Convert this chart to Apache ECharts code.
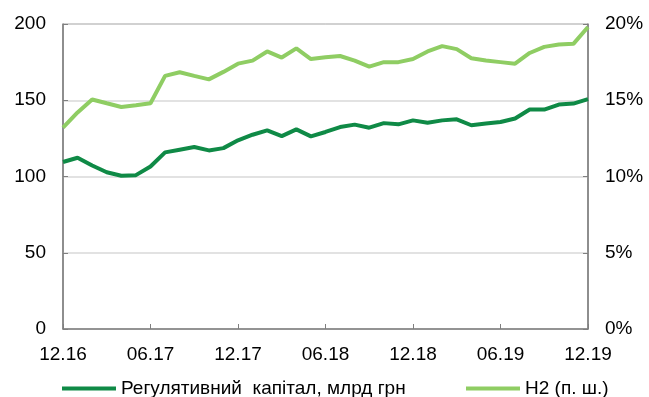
<!DOCTYPE html>
<html>
<head>
<meta charset="utf-8">
<script src="https://cdn.jsdelivr.net/npm/echarts@6/dist/echarts.min.js"></script>
<style>
  html, body { margin: 0; padding: 0; background: #fff; }
  #chart { width: 649px; height: 397px; }
</style>
</head>
<body>
<div id="chart"></div>
<script>
// Monthly points, 12.2016 – 12.2019
const months = [
  '12.16','01.17','02.17','03.17','04.17','05.17','06.17','07.17','08.17','09.17','10.17','11.17',
  '12.17','01.18','02.18','03.18','04.18','05.18','06.18','07.18','08.18','09.18','10.18','11.18',
  '12.18','01.19','02.19','03.19','04.19','05.19','06.19','07.19','08.19','09.19','10.19','11.19',
  '12.19'
];

// Regulatory capital, UAH bn (left axis)
const capital = [
  109.5, 112.3, 107.2, 102.8, 100.5, 100.9, 106.6, 115.8, 117.6, 119.3, 117.1, 118.6,
  123.7, 127.4, 130.3, 126.5, 130.9, 126.3, 129.2, 132.4, 134.0, 132.0, 135.0, 134.2,
  136.8, 135.3, 136.8, 137.5, 133.6, 134.7, 135.7, 138.0, 143.9, 143.9, 147.2, 147.8,
  150.7
];

// H2 ratio, % (right axis)
const h2 = [
  13.2, 14.2, 15.05, 14.8, 14.56, 14.67, 14.8, 16.6, 16.84, 16.6, 16.37, 16.86,
  17.4, 17.6, 18.2, 17.8, 18.4, 17.7, 17.82, 17.9, 17.6, 17.2, 17.5, 17.5,
  17.7, 18.2, 18.55, 18.35, 17.75, 17.6, 17.5, 17.4, 18.1, 18.5, 18.65, 18.7,
  19.8
];

const leftTicks = [0, 50, 100, 150, 200];
const rightTicks = [0, 5, 10, 15, 20];

const seriesNames = ['Регулятивний  капітал, млрд грн', 'Н2 (п. ш.)'];
const colors = ['#0f8a46', '#8fcd63'];

const font = 'Liberation Sans, Arial, sans-serif';
const axisGray = '#7f7f7f';

const chart = echarts.init(document.getElementById('chart'), null, { renderer: 'canvas' });

chart.setOption({
  animation: false,
  textStyle: { fontFamily: font },
  grid: {
    left: 63, right: 61, top: 24, bottom: 68,
    show: true, borderColor: axisGray, borderWidth: 1
  },
  legend: [
    {
      data: [seriesNames[0]],
      left: 57, top: 374,
      icon: 'rect', itemWidth: 54, itemHeight: 4, itemGap: 4,
      textStyle: { fontFamily: font, fontSize: 19, color: '#000' }
    },
    {
      data: [seriesNames[1]],
      left: 461, top: 374,
      icon: 'rect', itemWidth: 54, itemHeight: 4, itemGap: 4,
      textStyle: { fontFamily: font, fontSize: 19, color: '#000' }
    }
  ],
  xAxis: {
    type: 'category',
    data: months,
    boundaryGap: false,
    axisLine: { lineStyle: { color: axisGray, width: 1.5 } },
    axisTick: { show: true, inside: true, length: 5, interval: 5, lineStyle: { color: axisGray } },
    axisLabel: { interval: 5, margin: 16, fontSize: 19, color: '#000', fontFamily: font },
    splitLine: { show: false }
  },
  yAxis: [
    {
      type: 'value',
      min: leftTicks[0], max: leftTicks[leftTicks.length - 1], interval: leftTicks[1] - leftTicks[0],
      axisLine: { show: true, lineStyle: { color: axisGray, width: 1.5 } },
      axisTick: { show: true, inside: true, length: 5, lineStyle: { color: axisGray } },
      axisLabel: { margin: 17, fontSize: 19, color: '#000', fontFamily: font },
      splitLine: { show: true, lineStyle: { color: '#d9d9d9', width: 1.5 } }
    },
    {
      type: 'value',
      min: rightTicks[0], max: rightTicks[rightTicks.length - 1], interval: rightTicks[1] - rightTicks[0],
      axisLine: { show: true, lineStyle: { color: axisGray, width: 1.5 } },
      axisTick: { show: true, inside: true, length: 5, lineStyle: { color: axisGray } },
      axisLabel: { margin: 17, fontSize: 19, color: '#000', fontFamily: font, formatter: '{value}%' },
      splitLine: { show: false }
    }
  ],
  series: [
    {
      name: seriesNames[0],
      type: 'line',
      yAxisIndex: 0,
      data: capital,
      showSymbol: false,
      color: colors[0],
      lineStyle: { width: 4, color: colors[0] },
      z: 3
    },
    {
      name: seriesNames[1],
      type: 'line',
      yAxisIndex: 1,
      data: h2,
      showSymbol: false,
      color: colors[1],
      lineStyle: { width: 4, color: colors[1] },
      z: 2
    }
  ]
});
</script>
</body>
</html>
